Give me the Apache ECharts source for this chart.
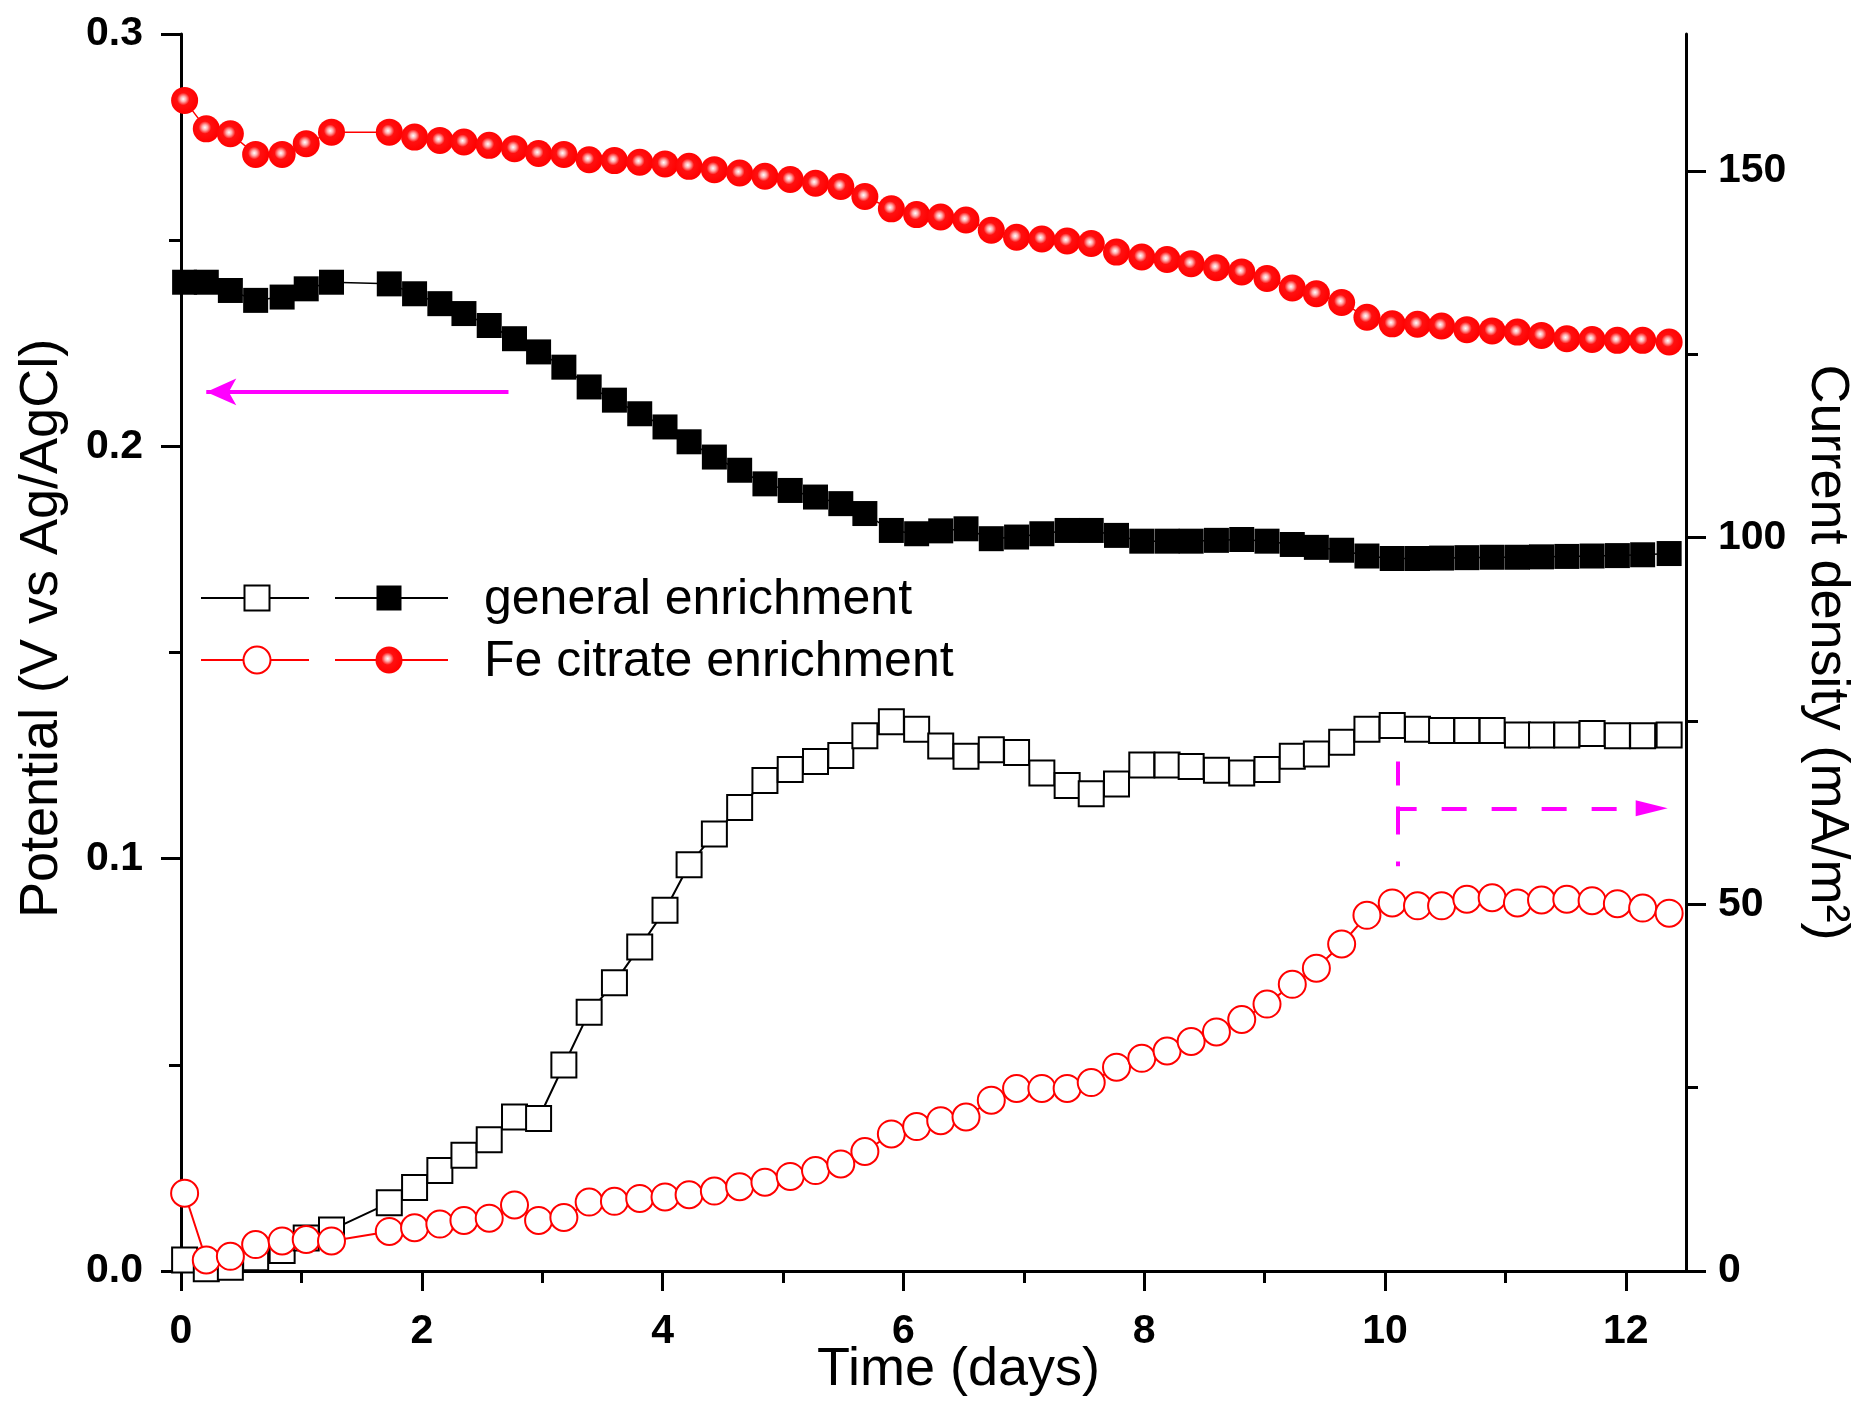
<!DOCTYPE html>
<html>
<head>
<meta charset="utf-8">
<script src="https://cdn.jsdelivr.net/npm/echarts@6/dist/echarts.min.js"></script>
<style>
  html, body { margin: 0; padding: 0; background: #fff; }
  #chart { width: 1875px; height: 1404px; }
</style>
</head>
<body>
<div id="chart"></div>
<script>
// Sampling times (days), shared by all four records
const days = [0.03, 0.21, 0.41, 0.62, 0.84, 1.04, 1.25, 1.73, 1.94, 2.15,
  2.35, 2.56, 2.77, 2.97, 3.18, 3.39, 3.60, 3.81, 4.02, 4.22,
  4.43, 4.64, 4.85, 5.06, 5.27, 5.48, 5.68, 5.90, 6.11, 6.31,
  6.52, 6.73, 6.94, 7.15, 7.36, 7.56, 7.77, 7.98, 8.19, 8.39,
  8.60, 8.81, 9.02, 9.23, 9.43, 9.64, 9.85, 10.06, 10.27, 10.47,
  10.68, 10.89, 11.10, 11.30, 11.51, 11.72, 11.93, 12.14, 12.36];

// Anode potential (V vs Ag/AgCl), left axis
const potentialGeneral = [0.2398, 0.2398, 0.2378, 0.2354, 0.2362, 0.2382, 0.2398, 0.2394, 0.2370, 0.2346,
  0.2322, 0.2293, 0.2261, 0.2229, 0.2192, 0.2144, 0.2112, 0.2079, 0.2047, 0.2011,
  0.1974, 0.1942, 0.1909, 0.1893, 0.1877, 0.1861, 0.1837, 0.1796, 0.1788, 0.1795,
  0.1800, 0.1776, 0.1780, 0.1788, 0.1796, 0.1796, 0.1784, 0.1770, 0.1770, 0.1770,
  0.1772, 0.1774, 0.1770, 0.1762, 0.1755, 0.1748, 0.1734, 0.1728, 0.1728, 0.1729,
  0.1730, 0.1731, 0.1731, 0.1732, 0.1733, 0.1734, 0.1735, 0.1737, 0.1740];

const potentialFe = [0.2839, 0.2770, 0.2758, 0.2708, 0.2708, 0.2734, 0.2762, 0.2762, 0.2750, 0.2742,
  0.2738, 0.2730, 0.2722, 0.2710, 0.2708, 0.2695, 0.2693, 0.2689, 0.2685, 0.2679,
  0.2671, 0.2663, 0.2655, 0.2647, 0.2638, 0.2630, 0.2606, 0.2576, 0.2562, 0.2556,
  0.2549, 0.2524, 0.2507, 0.2503, 0.2498, 0.2492, 0.2471, 0.2459, 0.2453, 0.2443,
  0.2433, 0.2423, 0.2407, 0.2384, 0.2370, 0.2349, 0.2313, 0.2297, 0.2296, 0.2292,
  0.2283, 0.2280, 0.2277, 0.2269, 0.2261, 0.2259, 0.2257, 0.2257, 0.2253];

// Current density (mA/m2), right axis
const currentGeneral = [1.5, 0.3, 0.5, 1.8, 2.8, 4.5, 5.6, 9.3, 11.4, 13.7,
  15.8, 17.9, 21.0, 20.8, 28.1, 35.3, 39.3, 44.2, 49.2, 55.4,
  59.6, 63.2, 66.9, 68.4, 69.5, 70.3, 73.0, 74.9, 73.9, 71.6,
  70.2, 71.1, 70.7, 67.9, 66.2, 65.1, 66.4, 69.0, 69.0, 68.8,
  68.3, 67.9, 68.4, 70.2, 70.5, 72.1, 73.9, 74.4, 73.9, 73.7,
  73.7, 73.7, 73.1, 73.1, 73.1, 73.3, 73.0, 73.0, 73.1];

const currentFe = [10.6, 1.5, 2.0, 3.6, 4.1, 4.3, 4.1, 5.4, 5.9, 6.4,
  6.9, 7.2, 9.0, 6.9, 7.3, 9.4, 9.5, 9.9, 10.1, 10.4,
  10.9, 11.5, 12.1, 12.9, 13.7, 14.6, 16.3, 18.7, 19.7, 20.5,
  21.0, 23.3, 24.9, 24.9, 24.9, 25.7, 27.8, 29.0, 30.0, 31.3,
  32.6, 34.3, 36.4, 39.1, 41.3, 44.6, 48.5, 50.2, 49.8, 49.8,
  50.7, 50.9, 50.2, 50.6, 50.7, 50.5, 50.1, 49.5, 48.8];

// Tick positions
const timeMajorTicks = [0, 2, 4, 6, 8, 10, 12];
const timeMinorTicks = [1, 3, 5, 7, 9, 11];
const currentMajorTicks = [0, 50, 100, 150];
const currentMinorTicks = [25, 75, 125];

const seriesNames = ['general enrichment', 'Fe citrate enrichment'];

const FONT = 'Liberation Sans, Arial, Helvetica, sans-serif';
const RED = '#ff0000';
const MAGENTA = '#ff00ff';

const pairs = (xs, ys) => xs.map((x, i) => [x, ys[i]]);

const ballFill = {
  type: 'radial', x: 0.45, y: 0.45, r: 0.55,
  colorStops: [
    { offset: 0, color: '#ffffff' },
    { offset: 0.18, color: '#ffb0b0' },
    { offset: 0.42, color: '#ff1010' },
    { offset: 1, color: '#ff0000' }
  ]
};

const axisLineStyle = { color: '#000', width: 3 };
const tickStyle = { color: '#000', width: 3 };
const tickLabel = { color: '#000', fontFamily: FONT, fontWeight: 'bold', fontSize: 41 };
const titleText = { color: '#000', fontFamily: FONT, fontSize: 54 };

const chart = echarts.init(document.getElementById('chart'), null, { renderer: 'canvas' });

const noLabel = { show: false };

chart.setOption({
  animation: false,
  backgroundColor: '#ffffff',
  grid: { left: 181, right: 189, top: 34, bottom: 133, containLabel: false, outerBoundsMode: 'none' },
  xAxis: [
    {
      type: 'value', position: 'bottom', min: 0, max: 12.5,
      name: 'Time (days)', nameLocation: 'middle', nameGap: 72, nameMoveOverlap: false,
      nameTextStyle: Object.assign({ padding: [0, 0, 0, 50] }, titleText),
      axisLine: { onZero: false, lineStyle: axisLineStyle },
      axisTick: { customValues: timeMajorTicks, length: 20, lineStyle: tickStyle },
      axisLabel: Object.assign({ customValues: timeMajorTicks, margin: 40 }, tickLabel),
      splitLine: { show: false }
    },
    {
      type: 'value', position: 'bottom', min: 0, max: 12.5,
      axisLine: { show: false, onZero: false },
      axisTick: { customValues: timeMinorTicks, length: 12, lineStyle: tickStyle },
      axisLabel: noLabel,
      splitLine: { show: false }
    }
  ],
  yAxis: [
    {
      type: 'value', position: 'left', min: 0, max: 0.3, interval: 0.1,
      name: 'Potential (V vs Ag/AgCl)', nameLocation: 'middle', nameGap: 112,
      nameTextStyle: Object.assign({ padding: [0, 0, 0, 48] }, titleText),
      axisLine: { show: true, onZero: false, lineStyle: axisLineStyle },
      axisTick: { length: 20, lineStyle: tickStyle },
      minorTick: { show: true, splitNumber: 2, length: 12, lineStyle: tickStyle },
      axisLabel: Object.assign({ margin: 38, formatter: v => v.toFixed(1) }, tickLabel),
      splitLine: { show: false }
    },
    {
      type: 'value', position: 'right', min: 0, max: 168.7, interval: 50,
      name: 'Current density (mA/m\u00B2)', nameLocation: 'middle', nameGap: 114, nameRotate: -90,
      nameTextStyle: titleText,
      axisLine: { show: true, onZero: false, lineStyle: axisLineStyle },
      axisTick: { customValues: currentMajorTicks, length: 20, lineStyle: tickStyle },
      axisLabel: Object.assign({ customValues: currentMajorTicks, margin: 32 }, tickLabel),
      splitLine: { show: false }
    },
    {
      type: 'value', position: 'right', min: 0, max: 168.7,
      axisLine: { show: false, onZero: false },
      axisTick: { customValues: currentMinorTicks, length: 12, lineStyle: tickStyle },
      axisLabel: noLabel,
      splitLine: { show: false }
    }
  ],
  series: [
    {
      name: seriesNames[0] + ' (potential)', type: 'line', xAxisIndex: 0, yAxisIndex: 0,
      data: pairs(days, potentialGeneral),
      symbol: 'rect', symbolSize: 25, showAllSymbol: true,
      lineStyle: { color: '#000', width: 1.5 },
      itemStyle: { color: '#000' },
      emphasis: { disabled: true },
      markLine: {
        silent: true, animation: false,
        symbol: ['none', 'arrow'], symbolSize: [20, 30],
        label: { show: false },
        emphasis: { disabled: true },
        lineStyle: { color: MAGENTA, width: 4, type: 'solid' },
        data: [[{ coord: [2.72, 0.2132] }, { coord: [0.21, 0.2132] }]]
      }
    },
    {
      name: seriesNames[1] + ' (potential)', type: 'line', xAxisIndex: 0, yAxisIndex: 0,
      data: pairs(days, potentialFe),
      symbol: 'circle', symbolSize: 27, showAllSymbol: true,
      lineStyle: { color: RED, width: 1.5 },
      itemStyle: { color: ballFill },
      emphasis: { disabled: true }
    },
    {
      name: seriesNames[0] + ' (current)', type: 'line', xAxisIndex: 0, yAxisIndex: 1,
      data: pairs(days, currentGeneral),
      symbol: 'rect', symbolSize: 25, showAllSymbol: true,
      lineStyle: { color: '#000', width: 2 },
      itemStyle: { color: '#ffffff', borderColor: '#000', borderWidth: 2 },
      emphasis: { disabled: true },
      markLine: {
        silent: true, animation: false,
        label: { show: false },
        emphasis: { disabled: true },
        data: [
          [
            { coord: [10.105, 69.5], symbol: 'none',
              lineStyle: { color: MAGENTA, width: 4, type: [24, 21, 28, 27, 6, 200] } },
            { coord: [10.105, 55.2], symbol: 'none' }
          ],
          [
            { coord: [10.105, 63.1], symbol: 'none',
              lineStyle: { color: MAGENTA, width: 4, type: [25, 25], dashOffset: 6 } },
            { coord: [12.215, 63.1], symbol: 'triangle', symbolSize: [16, 32] }
          ]
        ]
      }
    },
    {
      name: seriesNames[1] + ' (current)', type: 'line', xAxisIndex: 0, yAxisIndex: 1,
      data: pairs(days, currentFe),
      symbol: 'circle', symbolSize: 27, showAllSymbol: true,
      lineStyle: { color: RED, width: 2 },
      itemStyle: { color: '#ffffff', borderColor: RED, borderWidth: 2 },
      emphasis: { disabled: true }
    }
  ],
  graphic: [
    // legend row 1: open square, filled square
    { type: 'line', shape: { x1: 201, y1: 598, x2: 309, y2: 598 }, style: { stroke: '#000', lineWidth: 2 }, z: 10 },
    { type: 'rect', shape: { x: 244.5, y: 585.5, width: 25, height: 25 }, style: { fill: '#fff', stroke: '#000', lineWidth: 2 }, z: 11 },
    { type: 'line', shape: { x1: 335, y1: 598, x2: 448, y2: 598 }, style: { stroke: '#000', lineWidth: 2 }, z: 10 },
    { type: 'rect', shape: { x: 376.5, y: 585.5, width: 25, height: 25 }, style: { fill: '#000' }, z: 11 },
    { type: 'text', x: 484, y: 600, z: 11,
      style: { text: seriesNames[0], fill: '#000', fontFamily: FONT, fontSize: 50, verticalAlign: 'middle' } },
    // legend row 2: open circle, filled ball
    { type: 'line', shape: { x1: 201, y1: 660, x2: 309, y2: 660 }, style: { stroke: RED, lineWidth: 2 }, z: 10 },
    { type: 'circle', shape: { cx: 257, cy: 660, r: 13.5 }, style: { fill: '#fff', stroke: RED, lineWidth: 2 }, z: 11 },
    { type: 'line', shape: { x1: 335, y1: 660, x2: 448, y2: 660 }, style: { stroke: RED, lineWidth: 2 }, z: 10 },
    { type: 'circle', shape: { cx: 389, cy: 660, r: 13.5 }, style: { fill: ballFill }, z: 11 },
    { type: 'text', x: 484, y: 662, z: 11,
      style: { text: seriesNames[1], fill: '#000', fontFamily: FONT, fontSize: 50, verticalAlign: 'middle' } }
  ]
});
</script>
</body>
</html>
